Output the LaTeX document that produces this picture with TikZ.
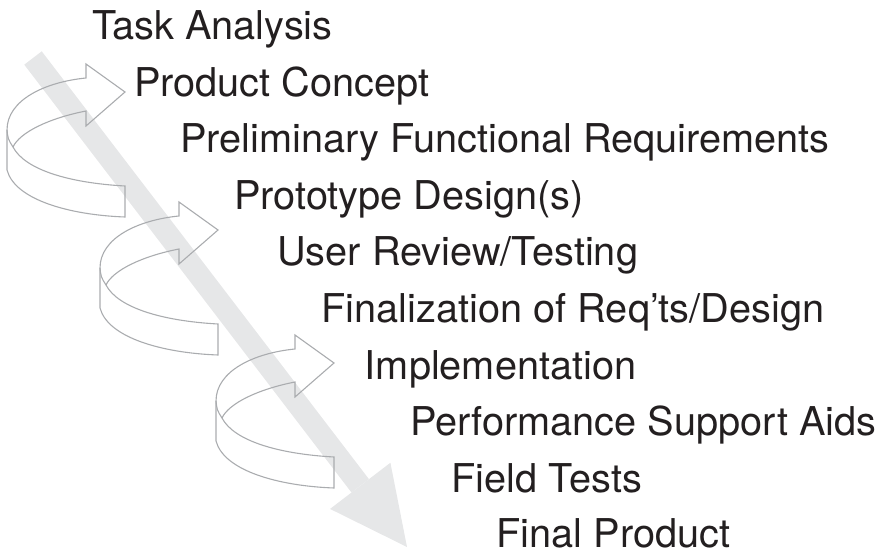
\documentclass[tikz,border=0pt]{standalone}
\usepackage{fontspec}
\setmainfont{TeX Gyre Heros}
\usepackage{tikz}
\usetikzlibrary{arrows.meta}

\definecolor{shaftgray}{RGB}{230,231,232}
\definecolor{ribbongray}{RGB}{170,172,175}
\definecolor{labelblack}{RGB}{35,31,32}

\tikzset{
  stage/.style={anchor=base west, inner sep=0pt, text=labelblack,
    font=\fontsize{39.7pt}{47pt}\selectfont},
  ribbon/.style={draw=ribbongray, line width=1.1pt, line join=miter},
  shaft/.style={draw=shaftgray, line width=22pt,
    -{Triangle[length=77pt, width=76pt, line width=0pt]}}
}

\begin{document}
\begin{tikzpicture}[x=1pt, y=-1pt]
  \useasboundingbox (0,0) rectangle (878,553);
  % big arrow behind everything
  \coordinate (shafttop) at (33,58);
  \coordinate (shafttip) at (407,547);
  \draw[shaft] (shafttop) -- (shafttip);

  % the three looping arrows
  \foreach \dx/\dy in {0/0, 93/138, 209/271} {
    \begin{scope}[shift={(\dx,\dy)}]
      \draw[ribbon] (125,92) -- (86,126) -- (86,111)
        .. controls (50,118) and (20,132) .. (13,147)
        .. controls (25,170) and (70,183) .. (125,186) -- (125,217)
        .. controls (70,215) and (15,200) .. (7,170) -- (7,130)
        .. controls (7,100) and (45,82) .. (86,78) -- (86,64) -- cycle;
      \draw[ribbon] (7,130) .. controls (8,139) .. (13,147);
    \end{scope}
  }

  % the stages
  \node[stage] (task) at (92,40) {Task Analysis};
  \node[stage] (concept) at (134,96.5) {Product Concept};
  \node[stage] (prelim) at (180,153) {Preliminary Functional Requirements};
  \node[stage] (proto) at (234,209.5) {Prototype Design(s)};
  \node[stage] (review) at (277,266) {User Review/Testing};
  \node[stage] (final) at (321.5,322.5) {Finalization of Req’ts/Design};
  \node[stage] (implem) at (364.5,379) {Implementation};
  \node[stage] (aids) at (410,435.5) {Performance Support Aids};
  \node[stage] (field) at (451.5,492) {Field Tests};
  \node[stage] (product) at (496.5,547.5) {Final Product};
\end{tikzpicture}
\end{document}
